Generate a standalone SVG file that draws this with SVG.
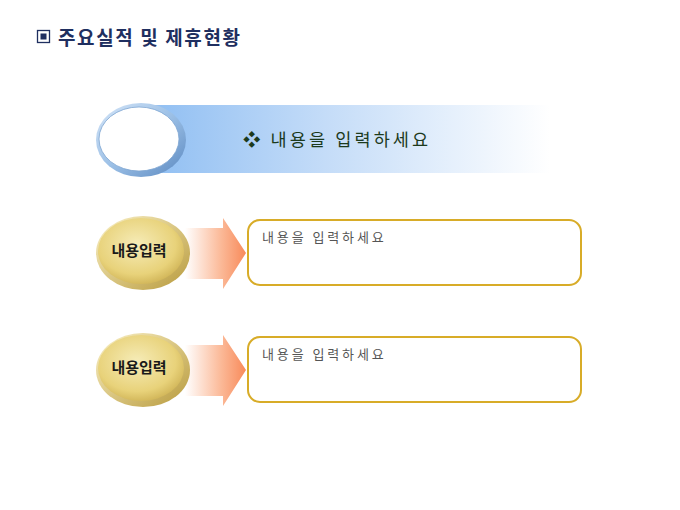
<svg xmlns="http://www.w3.org/2000/svg" width="680" height="510" viewBox="0 0 680 510">
<defs>
<linearGradient id="band" x1="0" y1="0" x2="1" y2="0">
<stop offset="0" stop-color="#8dbdf2"/>
<stop offset="0.45" stop-color="#c4dcf8"/>
<stop offset="1" stop-color="#ffffff"/>
</linearGradient>
<linearGradient id="ring" x1="0" y1="0" x2="1" y2="1">
<stop offset="0" stop-color="#d6e6f8"/>
<stop offset="0.5" stop-color="#9cc0e6"/>
<stop offset="1" stop-color="#5a88c0"/>
</linearGradient>
<radialGradient id="gold" cx="0.45" cy="0.4" r="0.65">
<stop offset="0" stop-color="#f6ecb8"/>
<stop offset="0.7" stop-color="#e8d27a"/>
<stop offset="1" stop-color="#cdb052"/>
</radialGradient>
<linearGradient id="goldrim" x1="0" y1="0" x2="1" y2="1">
<stop offset="0" stop-color="#fbf2c8"/>
<stop offset="1" stop-color="#b89a3c"/>
</linearGradient>
<linearGradient id="arrow" x1="0" y1="0" x2="1" y2="0">
<stop offset="0" stop-color="#ffffff"/>
<stop offset="0.6" stop-color="#fbb896"/>
<stop offset="1" stop-color="#f88a5a"/>
</linearGradient>
<style>
.lbl{font-family:"Noto Sans CJK KR","Noto Sans",sans-serif;font-weight:bold;font-size:15px;fill:#1a1a1a}
.txt{font-family:"Noto Sans CJK KR","Noto Sans",sans-serif;font-size:13px;fill:#555;letter-spacing:2.9px}
.box{fill:#ffffff;stroke:#d8ac28;stroke-width:2}
</style>
</defs>
<g id="header">
<rect x="37.5" y="30.5" width="12" height="12" fill="none" stroke="#1f2f60" stroke-width="1.3"/>
<rect x="40.5" y="33.5" width="6" height="6" fill="#1f2f60"/>
<text x="58" y="45" font-family="'Noto Sans CJK KR','Noto Sans',sans-serif" font-weight="bold" font-size="19" fill="#1f2f60" letter-spacing="1.6">주요실적 및 제휴현황</text>
</g>
<g id="banner">
<rect x="140" y="105" width="410" height="68" fill="url(#band)"/>
<ellipse cx="141" cy="140" rx="45" ry="37" fill="url(#ring)"/>
<ellipse cx="139" cy="139" rx="40" ry="32" fill="#ffffff" stroke="#7fa6d2" stroke-width="0.8"/>
<text x="243" y="146" font-family="'Noto Sans CJK KR','Noto Sans',sans-serif" font-size="17.5" fill="#1c3a1c" letter-spacing="3.1">❖ 내용을 입력하세요</text>
</g>
<g id="connectors">
<path d="M185,228 H223 V218 L246,253 L223,289 V279 H185 Z" fill="url(#arrow)"/>
<path d="M185,345 H223 V335 L246,370 L223,406 V396 H185 Z" fill="url(#arrow)"/>
</g>
<g id="node1">
<ellipse cx="143" cy="253" rx="47" ry="37" fill="url(#goldrim)"/>
<ellipse cx="141" cy="251" rx="43" ry="33" fill="url(#gold)"/>
<text x="139" y="256" text-anchor="middle" class="lbl">내용입력</text>
</g>
<g id="box1">
<rect x="248" y="220" width="333" height="65" rx="12" class="box"/>
<text x="262" y="242" class="txt">내용을 입력하세요</text>
</g>
<g id="node2">
<ellipse cx="143" cy="370" rx="47" ry="37" fill="url(#goldrim)"/>
<ellipse cx="141" cy="368" rx="43" ry="33" fill="url(#gold)"/>
<text x="139" y="373" text-anchor="middle" class="lbl">내용입력</text>
</g>
<g id="box2">
<rect x="248" y="337" width="333" height="65" rx="12" class="box"/>
<text x="262" y="359" class="txt">내용을 입력하세요</text>
</g>
</svg>
